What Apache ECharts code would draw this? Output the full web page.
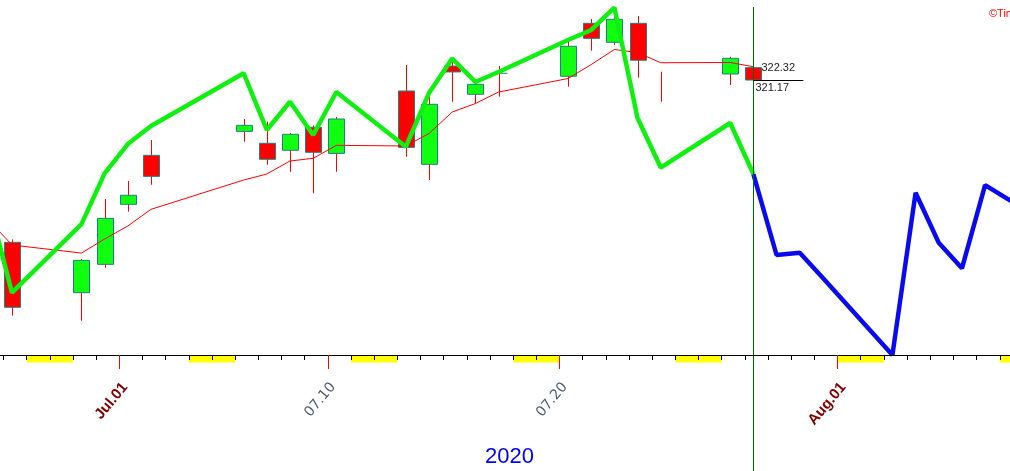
<!DOCTYPE html>
<html><head><meta charset="utf-8">
<script src="https://cdn.jsdelivr.net/npm/echarts@6/dist/echarts.min.js"></script>
<style>html,body{margin:0;padding:0;background:#fff;overflow:hidden}#c{width:1010px;height:471px}</style>
</head><body><div id="c"></div>
<script>
// ---- data ----
const candleDates = ['2020-06-26','2020-06-29','2020-06-30','2020-07-01','2020-07-02','2020-07-06','2020-07-07','2020-07-08','2020-07-09','2020-07-10','2020-07-13','2020-07-14','2020-07-15','2020-07-16','2020-07-17','2020-07-20','2020-07-21','2020-07-22','2020-07-23','2020-07-24','2020-07-27','2020-07-28'];
const opens  = [306.06,301.37,304.01,309.60,314.16,316.39,315.28,314.63,316.77,314.34,320.15,313.32,322.47,319.84,321.80,321.52,326.45,324.68,326.45,321.94,321.73,322.32];
const closes = [300.01,304.38,308.29,310.44,312.20,316.95,313.79,316.12,314.44,317.54,314.90,318.91,321.92,320.77,321.80,324.31,325.05,326.82,323.01,321.94,323.19,321.17];
const lows   = [299.23,298.76,303.69,308.91,311.42,315.43,313.28,312.63,310.62,312.63,314.03,311.86,319.15,319.00,319.62,320.55,323.90,324.43,321.39,319.15,320.71,321.17];
const highs  = [306.34,304.50,310.09,311.77,315.58,317.54,317.29,316.25,316.95,317.73,322.57,319.62,323.03,321.17,322.47,324.90,326.85,327.41,327.13,321.94,323.34,322.57];

const maDates  = ['2020-06-25'].concat(candleDates);
const maValues = [308.13,305.81,305.06,306.37,307.58,309.13,311.86,312.42,313.63,313.88,315.09,315.03,316.19,318.19,318.98,320.05,321.31,322.61,324.01,323.73,322.78,322.80,322.41];

const pastProjDates  = ['2020-06-25'].concat(candleDates);
const pastProjValues = [309.72,301.37,307.76,312.48,315.21,316.89,321.80,316.52,319.15,316.05,320.05,314.96,319.96,323.17,320.99,321.92,324.90,325.83,327.92,317.63,313.02,317.17,312.42];
const futureProjDates  = ['2020-07-28','2020-07-29','2020-07-30','2020-07-31','2020-08-03','2020-08-04','2020-08-05','2020-08-06','2020-08-07','2020-08-10'];
const futureProjValues = [312.42,304.88,305.09,302.74,295.57,310.68,306.02,303.64,311.39,307.39];

const weekendStarts = ['2020-06-27','2020-07-04','2020-07-11','2020-07-18','2020-07-25','2020-08-01','2020-08-08'];
const tickLabelDates = ['2020-07-01','2020-07-10','2020-07-20','2020-08-01'];
const tickLabels = ['Jul.01','07.10','07.20','Aug.01'];
const lastPrices = [322.32, 321.17];
const nowDate = '2020-07-28';
const yearLabel = '2020';
const copyrightText = '\u00A9Timing Solution';

// ---- helpers ----
function dayIndex(s){const p=s.split('-').map(Number);return (Date.UTC(p[0],p[1]-1,p[2])-Date.UTC(2020,6,1))/86400000;}
const CENTER = 0.367;            // candle position inside its day cell
const X_MIN = -6, X_MAX = 39;
const Y_MIN = 295.57, Y_MAX = 328.62;

const candleData = candleDates.map((s,i)=>[dayIndex(s)+CENTER, opens[i], closes[i], lows[i], highs[i]]);
const maData = maDates.map((s,i)=>[dayIndex(s)+CENTER, maValues[i]]);
const pastData = pastProjDates.map((s,i)=>[dayIndex(s)+CENTER, pastProjValues[i]]);
const futureData = futureProjDates.map((s,i)=>[dayIndex(s)+CENTER, futureProjValues[i]]);
const weekendData = weekendStarts.map(s=>[dayIndex(s)]);
const tickVals = tickLabelDates.map(dayIndex);
const nowX = dayIndex(nowDate)+CENTER;

const chart = echarts.init(document.getElementById('c'), null, {renderer:'canvas'});
const FONT = 'Liberation Sans, Arial, sans-serif';

chart.setOption({
  animation: false,
  backgroundColor: '#ffffff',
  grid: {left: -19.72, right: -12.93, top: 0, bottom: 116, containLabel: false, outerBoundsMode: 'none'},
  xAxis: [{
    type: 'value', min: X_MIN, max: X_MAX, interval: 1, z: 5,
    axisLine: {show: true, lineStyle: {color: '#000', width: 1}},
    axisTick: {show: true, length: 5, lineStyle: {color: '#000', width: 1}},
    axisLabel: {show: false}, splitLine: {show: false}
  }, {
    type: 'value', min: X_MIN, max: X_MAX, position: 'bottom', z: 6,
    axisLine: {show: false},
    axisTick: {show: true, length: 14, customValues: tickVals, lineStyle: {color: '#ff0000', width: 1}},
    axisLabel: {
      show: true, customValues: tickVals, rotate: 50, margin: 25, verticalAlign: 'top',
      formatter: function(v){
        const i = tickVals.indexOf(Math.round(v));
        if (i < 0) return '';
        const t = tickLabels[i];
        return /[A-Za-z]/.test(t) ? '{m|' + t + '}' : '{d|' + t + '}';
      },
      rich: {
        m: {color: '#800000', fontWeight: 'bold', fontSize: 15, fontFamily: FONT},
        d: {color: '#4d5d70', fontSize: 14, fontFamily: 'DejaVu Sans, sans-serif'}
      }
    },
    splitLine: {show: false}
  }],
  yAxis: {type: 'value', min: Y_MIN, max: Y_MAX, show: false, splitLine: {show: false}},
  graphic: [
    {type: 'text', left: 485, top: 446, style: {text: yearLabel, fill: '#0000ff', font: '22px ' + FONT}},
    {type: 'text', left: 989, top: 8, style: {text: copyrightText, fill: '#ff0000', font: '11px ' + FONT}}
  ],
  series: [
    { // weekend bands under the axis
      type: 'custom', xAxisIndex: 0, z: 1, data: weekendData, encode: {x: 0},
      renderItem: function(params, api){
        const a = api.coord([api.value(0), Y_MIN]);
        const b = api.coord([api.value(0) + 2, Y_MIN]);
        return {type: 'rect', shape: {x: a[0], y: a[1], width: b[0] - a[0], height: 7.5}, style: {fill: '#ffff00'}};
      }
    },
    { // candles
      type: 'custom', xAxisIndex: 0, z: 2, data: candleData, encode: {x: 0, y: [1, 2, 3, 4]},
      renderItem: function(params, api){
        const x = api.value(0), o = api.value(1), c = api.value(2), l = api.value(3), h = api.value(4);
        const po = api.coord([x, o]), pc = api.coord([x, c]), pl = api.coord([x, l]), ph = api.coord([x, h]);
        const cx = Math.round(po[0]) + 0.5, w = 16;
        const kids = [{type: 'line', shape: {x1: cx, y1: ph[1], x2: cx, y2: pl[1]}, style: {stroke: '#ff0000', lineWidth: 1}}];
        const top = Math.min(po[1], pc[1]), bot = Math.max(po[1], pc[1]);
        if (bot - top > 0.5) {
          kids.push({type: 'rect', shape: {x: cx - w / 2, y: top, width: w, height: bot - top},
            style: {fill: c > o ? '#10ff10' : '#ff0000', stroke: '#1f8080', lineWidth: 1}});
        } else if (h > o) {
          kids.push({type: 'line', shape: {x1: cx - w / 2, y1: top, x2: cx + w / 2, y2: top}, style: {stroke: '#1f8080', lineWidth: 1}});
        }
        return {type: 'group', children: kids};
      }
    },
    { // moving average
      type: 'line', xAxisIndex: 0, z: 3, data: maData, showSymbol: false, symbol: 'none',
      lineStyle: {color: '#ff0000', width: 1}
    },
    { // projection, past part
      type: 'line', xAxisIndex: 0, z: 4, data: pastData, showSymbol: false, symbol: 'none', clip: false,
      lineStyle: {color: '#10f010', width: 4.5}
    },
    { // projection, future part
      type: 'line', xAxisIndex: 0, z: 4, data: futureData, showSymbol: false, symbol: 'none', clip: false,
      lineStyle: {color: '#0a0af0', width: 4.5}
    },
    { // "now" vertical line
      type: 'custom', xAxisIndex: 0, z: 5, data: [[nowX]], encode: {x: 0},
      renderItem: function(params, api){
        const p = api.coord([api.value(0), Y_MAX]);
        const x = Math.round(p[0]) + 0.5;
        return {type: 'line', shape: {x1: x, y1: p[1] + 7, x2: x, y2: api.getHeight()}, style: {stroke: '#006a00', lineWidth: 1}};
      }
    },
    { // last price labels
      type: 'custom', xAxisIndex: 0, z: 6, data: lastPrices.map(v => [nowX, v]), encode: {x: 0, y: 1},
      renderItem: function(params, api){
        const p = api.coord([api.value(0), api.value(1)]);
        const txt = api.value(1).toFixed(2);
        if (params.dataIndex === 0) {
          return {type: 'text', x: p[0] + 8, y: p[1], style: {text: txt, fill: '#222', font: '11px ' + FONT, verticalAlign: 'middle', align: 'left'}};
        }
        const y = Math.round(p[1]) + 0.5;
        return {type: 'group', children: [
          {type: 'line', shape: {x1: p[0], y1: y, x2: p[0] + 50, y2: y}, style: {stroke: '#000', lineWidth: 1}},
          {type: 'text', x: p[0] + 2, y: y + 1.5, style: {text: txt, fill: '#222', font: '11px ' + FONT, verticalAlign: 'top', align: 'left'}}
        ]};
      }
    }
  ]
});
</script></body></html>
